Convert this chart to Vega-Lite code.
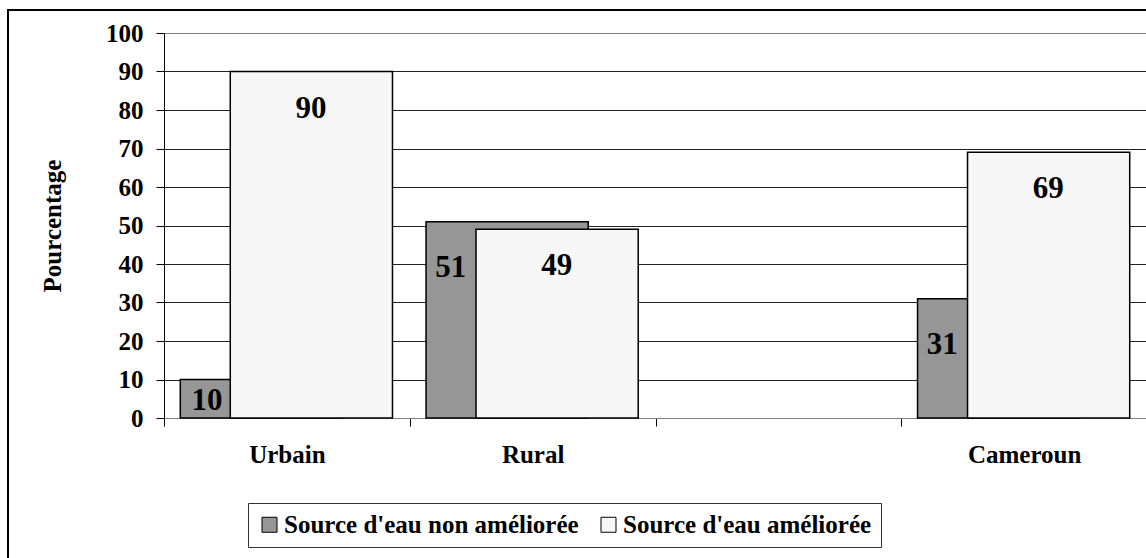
{
  "$schema": "https://vega.github.io/schema/vega-lite/v6.json",
  "autosize": {"type": "none"},
  "padding": {"left": 8, "top": 10, "right": 0, "bottom": 0},
  "width": 1141,
  "height": 551,
  "background": "white",
  "config": {
    "view": {"stroke": "black", "strokeWidth": 2},
    "font": "Liberation Serif",
    "legend": {
      "orient": "none",
      "legendX": 240,
      "legendY": 493,
      "direction": "horizontal",
      "strokeColor": "#333333",
      "fillColor": "white",
      "padding": 9,
      "labelFont": "Liberation Serif",
      "labelFontSize": 25,
      "labelFontWeight": "bold",
      "labelColor": "black",
      "labelLimit": 1000,
      "labelOffset": 2,
      "columnPadding": 17,
      "symbolType": "square",
      "symbolSize": 225,
      "symbolStrokeColor": "black",
      "symbolStrokeWidth": 1,
      "symbolOpacity": 1,
      "title": null
    }
  },
  "data": {
    "values": [
      {"zone": "Urbain", "source": "Source d'eau non améliorée", "v": 10},
      {"zone": "Urbain", "source": "Source d'eau améliorée", "v": 90},
      {"zone": "Rural", "source": "Source d'eau non améliorée", "v": 51},
      {"zone": "Rural", "source": "Source d'eau améliorée", "v": 49},
      {"zone": "Cameroun", "source": "Source d'eau non améliorée", "v": 31},
      {"zone": "Cameroun", "source": "Source d'eau améliorée", "v": 69}
    ]
  },
  "encoding": {
    "x": {
      "field": "zone",
      "type": "nominal",
      "sort": null,
      "scale": {"domain": ["Urbain", "Rural", " ", "Cameroun"], "range": [156, 1139], "paddingInner": 0, "paddingOuter": 0},
      "axis": {
        "orient": "bottom",
        "offset": -143,
        "title": null,
        "labelAngle": 0,
        "tickBand": "extent",
        "ticks": true,
        "tickSize": 8,
        "tickColor": "black",
        "domainColor": "#808080",
        "labelFont": "Liberation Serif",
        "labelFontSize": 25,
        "labelFontWeight": "bold",
        "labelColor": "black",
        "labelPadding": 16,
        "grid": false
      }
    },
    "y": {
      "field": "v",
      "type": "quantitative",
      "scale": {"domain": [0, 100], "range": [408, 23], "nice": false, "zero": true},
      "axis": {
        "orient": "left",
        "offset": -156,
        "values": [0, 10, 20, 30, 40, 50, 60, 70, 80, 90, 100],
        "tickSize": 8,
        "tickColor": "black",
        "domainColor": "black",
        "labelFont": "Liberation Serif",
        "labelFontSize": 25,
        "labelFontWeight": "bold",
        "labelColor": "black",
        "labelPadding": 13,
        "grid": true,
        "gridColor": {"condition": {"test": "datum.value === 100", "value": "#808080"}, "value": "#222222"},
        "gridOpacity": 1,
        "title": "Pourcentage",
        "titleFont": "Liberation Serif",
        "titleFontSize": 25,
        "titleFontWeight": "bold",
        "titleColor": "black",
        "titlePadding": 40
      }
    }
  },
  "layer": [
    {
      "transform": [{"filter": "datum.source === \"Source d'eau non améliorée\""}],
      "mark": {"type": "bar", "width": {"band": 0.66}, "xOffset": -25.5, "stroke": "black", "strokeWidth": 1.5, "opacity": 1},
      "encoding": {
        "color": {
          "field": "source",
          "type": "nominal",
          "scale": {"domain": ["Source d'eau non améliorée", "Source d'eau améliorée"], "range": ["#969696", "#f7f7f7"]},
          "legend": {"title": null}
        }
      }
    },
    {
      "transform": [{"filter": "datum.source === \"Source d'eau améliorée\""}],
      "mark": {"type": "bar", "width": {"band": 0.66}, "xOffset": 24.5, "stroke": "black", "strokeWidth": 1.5, "opacity": 1},
      "encoding": {
        "color": {
          "field": "source",
          "type": "nominal",
          "scale": {"domain": ["Source d'eau non améliorée", "Source d'eau améliorée"], "range": ["#969696", "#f7f7f7"]},
          "legend": {"title": null}
        }
      }
    },
    {
      "transform": [{"filter": "datum.source === \"Source d'eau non améliorée\" && datum.v >= 20"}],
      "mark": {"type": "text", "xOffset": -82, "dy": 46, "baseline": "middle", "align": "center", "fontSize": 31, "fontWeight": "bold", "font": "Liberation Serif", "color": "black"},
      "encoding": {"text": {"field": "v", "type": "quantitative"}}
    },
    {
      "transform": [{"filter": "datum.source === \"Source d'eau non améliorée\" && datum.v < 20"}],
      "mark": {"type": "text", "xOffset": -80, "dy": 21, "baseline": "middle", "align": "center", "fontSize": 31, "fontWeight": "bold", "font": "Liberation Serif", "color": "black"},
      "encoding": {"text": {"field": "v", "type": "quantitative"}}
    },
    {
      "transform": [{"filter": "datum.source === \"Source d'eau améliorée\""}],
      "mark": {"type": "text", "xOffset": 24, "dy": 37, "baseline": "middle", "align": "center", "fontSize": 31, "fontWeight": "bold", "font": "Liberation Serif", "color": "black"},
      "encoding": {"text": {"field": "v", "type": "quantitative"}}
    }
  ]
}
